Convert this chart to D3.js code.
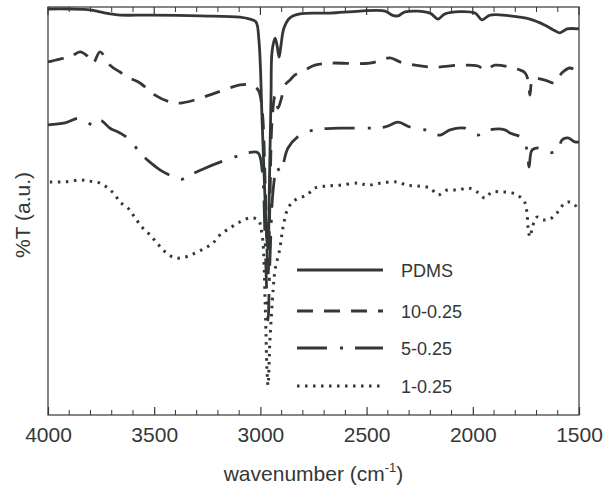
<!DOCTYPE html>
<html>
<head>
<meta charset="utf-8">
<script src="https://cdn.jsdelivr.net/npm/d3@7"></script>
<style>
  body { margin: 0; background: #fff; }
  svg { display: block; font-family: "Liberation Sans", Arial, sans-serif; }
</style>
</head>
<body>
<svg id="chart"></svg>
<script>
// [wavenumber, %T a.u.]
const pdms = [[4000,99.5],[3896,99.5],[3802,99.3],[3755,98.8],[3708,98.3],[3661,98.0],[3520,98.0],[3284,97.8],[3096,97.5],[3049,97.0],[3021,96.3],[3007,91.8],[2992,72],[2978,52],[2969,42],[2964,40],[2958,55],[2950,78],[2945,89],[2931,92.3],[2922,90.6],[2912,87.6],[2903,90.6],[2889,94.8],[2861,97.3],[2814,98.3],[2672,98.5],[2531,99.0],[2413,99.0],[2380,98.0],[2352,97.8],[2319,98.8],[2202,98.5],[2164,97.0],[2131,98.3],[1990,98.5],[1957,96.8],[1919,98.0],[1825,97.8],[1731,97.0],[1660,95.5],[1613,94.1],[1590,93.6],[1566,94.3],[1556,94.6],[1500,94.6]];

const s10 = [[4000,86.4],[3944,87.1],[3896,87.6],[3849,88.9],[3816,87.9],[3788,86.1],[3755,88.9],[3708,85.6],[3661,83.9],[3614,82.4],[3567,81.2],[3496,78.2],[3426,76.5],[3379,76.2],[3308,77.0],[3214,78.7],[3096,80.7],[3049,80.7],[3011,79.5],[2992,74.5],[2978,57],[2969,40],[2964,33.7],[2955,52],[2945,72],[2931,78],[2917,75],[2903,77],[2884,80.7],[2861,81.9],[2837,83.2],[2790,84.4],[2743,85.6],[2672,86.1],[2484,86.1],[2390,87.4],[2343,86.4],[2272,85.6],[2178,85.1],[2060,85.6],[1976,85.4],[1943,84.4],[1896,85.6],[1825,85.1],[1778,84.4],[1754,83.7],[1740,81.9],[1731,78.2],[1721,81.9],[1707,82.4],[1660,81.9],[1613,81.2],[1580,83.7],[1542,84.9],[1500,83.7]];

const s5 = [[4000,70.8],[3920,71.3],[3849,72.5],[3788,70.8],[3755,72.0],[3708,70.0],[3661,68.8],[3614,67.1],[3567,63.9],[3520,61.6],[3473,59.7],[3402,57.7],[3379,57.2],[3331,58.4],[3261,60.1],[3190,61.6],[3120,62.9],[3058,63.9],[3011,63.9],[2992,59.7],[2978,42.3],[2969,27.5],[2964,22.5],[2955,37.4],[2940,54.7],[2922,60.4],[2908,59.2],[2894,60.9],[2870,65.1],[2814,68.3],[2743,69.6],[2625,70.0],[2413,70.3],[2352,71.5],[2296,70.3],[2225,69.6],[2154,68.3],[2107,69.6],[2037,70.0],[1976,68.3],[1919,69.6],[1849,69.6],[1825,68.8],[1768,67.6],[1745,64.6],[1735,60.4],[1721,64.6],[1684,65.1],[1637,63.9],[1599,64.6],[1580,67.1],[1552,67.6],[1519,66.6],[1500,66.6]];

const s1 = [[3991,56.7],[3920,56.7],[3849,57.2],[3802,56.9],[3755,56.4],[3718,55.2],[3685,53.5],[3661,51.7],[3623,50.2],[3590,47.8],[3557,45.5],[3520,43.6],[3487,41.6],[3449,39.4],[3402,37.9],[3355,38.1],[3308,39.1],[3261,40.3],[3223,41.6],[3190,43.6],[3143,45.3],[3096,46.8],[3049,47.8],[3011,47.3],[2992,43.6],[2978,27.5],[2969,10.1],[2964,6.4],[2955,17.6],[2940,30],[2931,34.9],[2908,40.3],[2894,45.3],[2870,50.2],[2837,52.2],[2781,53.5],[2743,55.2],[2686,55.7],[2625,55.9],[2540,56.4],[2493,55.9],[2437,56.4],[2357,56.7],[2310,55.9],[2258,55.7],[2202,55.2],[2164,53.5],[2121,54.7],[2070,54.7],[2022,55.2],[1980,54.2],[1943,52.7],[1910,54.2],[1863,54.2],[1816,54.0],[1778,53.0],[1754,51.5],[1745,49.0],[1740,45.5],[1731,43.1],[1717,46.0],[1698,48.0],[1670,47.3],[1637,47.5],[1604,49.0],[1566,51.5],[1542,51.7],[1519,51.0],[1500,49.3]];

const seriesNames = ['PDMS', '10-0.25', '5-0.25', '1-0.25'];
const seriesData = [pdms, s10, s5, s1];
const xTicks = [4000, 3500, 3000, 2500, 2000, 1500];

const W = 603, H = 487;
const margin = { top: 7, right: 24, bottom: 72, left: 48 };
const ink = '#333835';

const svg = d3.select('#chart').attr('width', W).attr('height', H);

const x = d3.scaleLinear().domain([4000, 1500]).range([margin.left, W - margin.right]);
const y = d3.scaleLinear().domain([0, 100]).range([H - margin.bottom - 4, margin.top]);
const yBottom = H - margin.bottom;

const dashes = ['none', '16,11', '30,13,3,12', '2.5,5.5'];

// spectra
const line = d3.line()
  .x(d => x(d[0]))
  .y(d => y(d[1]))
  .curve(d3.curveCatmullRom.alpha(0.5));

seriesData.forEach((data, i) => {
  svg.append('path')
    .datum(data)
    .attr('fill', 'none')
    .attr('stroke', ink)
    .attr('stroke-width', i === 3 ? 3 : 2.8)
    .attr('stroke-dasharray', dashes[i])
    .attr('stroke-linejoin', 'round')
    .attr('d', line);
});

// frame
svg.append('rect')
  .attr('x', x(4000)).attr('y', margin.top)
  .attr('width', x(1500) - x(4000)).attr('height', yBottom - margin.top)
  .attr('fill', 'none').attr('stroke', ink).attr('stroke-width', 1.2);

// ticks (inward, bottom and top)
const bottom = svg.append('g').attr('transform', `translate(0,${yBottom})`);
bottom.call(d3.axisBottom(x).tickValues(xTicks).tickSize(-8).tickFormat(d => d).tickPadding(12));
bottom.select('.domain').remove();
bottom.selectAll('.tick line').attr('stroke', ink).attr('stroke-width', 1.2);
bottom.selectAll('.tick text')
  .style('font-size', '21px').attr('fill', ink).attr('font-family', '"Liberation Sans", Arial, sans-serif');

const minor = d3.range(4000, 1499, -100);
minor.filter(d => d % 500 !== 0).forEach(d => {
  svg.append('line').attr('x1', x(d)).attr('x2', x(d)).attr('y1', yBottom).attr('y2', yBottom - 5)
    .attr('stroke', ink).attr('stroke-width', 1);
  svg.append('line').attr('x1', x(d)).attr('x2', x(d)).attr('y1', margin.top).attr('y2', margin.top + 5)
    .attr('stroke', ink).attr('stroke-width', 1);
});
xTicks.forEach(d => {
  svg.append('line').attr('x1', x(d)).attr('x2', x(d)).attr('y1', margin.top).attr('y2', margin.top + 8)
    .attr('stroke', ink).attr('stroke-width', 1.2);
});

// axis titles
const xt = svg.append('text')
  .attr('x', (x(4000) + x(1500)) / 2).attr('y', 481)
  .attr('text-anchor', 'middle').attr('fill', ink).style('font-size', '21px');
xt.append('tspan').text('wavenumber (cm');
xt.append('tspan').attr('dy', -9).style('font-size', '13px').text('-1');
xt.append('tspan').attr('dy', 9).text(')');

svg.append('text')
  .attr('transform', `translate(30,${(yBottom + margin.top) / 2 + 4}) rotate(-90)`)
  .attr('text-anchor', 'middle').attr('fill', ink).style('font-size', '21px')
  .text('%T (a.u.)');

// legend
const legendY = [270, 311, 348, 386];
seriesNames.forEach((name, i) => {
  svg.append('line')
    .attr('x1', 297).attr('x2', 383).attr('y1', legendY[i]).attr('y2', legendY[i])
    .attr('stroke', ink).attr('stroke-width', 3).attr('stroke-dasharray', dashes[i]);
  svg.append('text')
    .attr('x', 401).attr('y', legendY[i] + 6.5)
    .attr('fill', ink).style('font-size', '18px')
    .text(name);
});
</script>
</body>
</html>
